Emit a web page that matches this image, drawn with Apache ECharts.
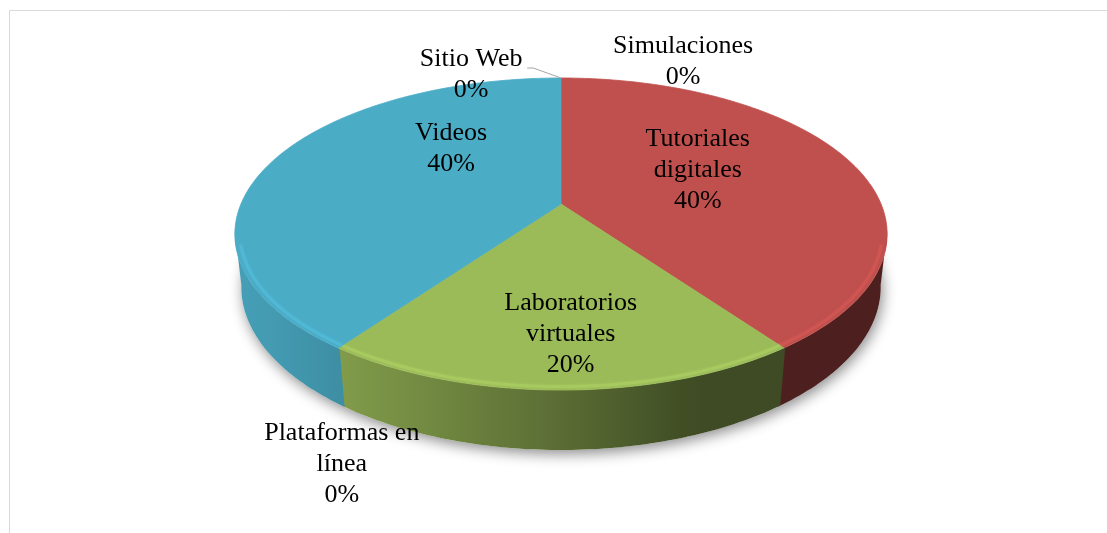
<!DOCTYPE html>
<html>
<head>
<meta charset="utf-8">
<script src="https://cdn.jsdelivr.net/npm/echarts@6/dist/echarts.min.js"></script>
<style>
html, body { margin: 0; padding: 0; background: #fff; }
#chart { width: 1107px; height: 533px; }
</style>
</head>
<body>
<div id="chart"></div>
<script>
// data
var categories = ['Simulaciones', 'Tutoriales digitales', 'Laboratorios virtuales', 'Plataformas en línea', 'Videos', 'Sitio Web'];
var labelNames = ['Simulaciones', 'Tutoriales\ndigitales', 'Laboratorios\nvirtuales', 'Plataformas en\nlínea', 'Videos', 'Sitio Web'];
var values = [0, 40, 20, 0, 40, 0];

// styling
var colors = ['#4f81bd', '#c0504d', '#9bbb59', '#8064a2', '#4bacc6', '#f79646'];
// label spot on the disk: [radius fraction, angle in degrees clockwise from top]
var labelSpots = [[1.245, 22], [0.506, 62], [0.742, 178], [1.396, 201.6], [0.54, 316.8], [1.082, 341.9]];
var geo = { cx: 561, cy: 204, f: 1469, s: 0.4695, c: 0.883, D: 4.59, H: 0.188 };

var total = values.reduce(function(a, b){ return a + b; }, 0);
var starts = [], sweeps = [];
(function(){
    var acc = 0;
    values.forEach(function(v){
        starts.push(acc / total * 360);
        sweeps.push(v / total * 360);
        acc += v;
    });
})();

function project(tDeg, r, h){
    var t = tDeg * Math.PI / 180,
        X = r * Math.sin(t),
        Z = r * Math.cos(t),
        Y = Z * geo.s - h * geo.c,
        depth = geo.D + Z * geo.c + h * geo.s;
    return [geo.cx + geo.f * X / depth, geo.cy - geo.f * Y / depth];
}

function shade(hex, k){
    var n = parseInt(hex.slice(1), 16),
        r = Math.min(255, Math.round(((n >> 16) & 255) * k)),
        g = Math.min(255, Math.round(((n >> 8) & 255) * k)),
        b = Math.min(255, Math.round((n & 255) * k));
    return 'rgb(' + r + ',' + g + ',' + b + ')';
}

function arcPoints(a0, a1, r, h){
    var pts = [], n = Math.max(1, Math.ceil((a1 - a0) / 1));
    for(var j = 0; j <= n; j++){
        pts.push(project(a0 + (a1 - a0) * j / n, r, h));
    }
    return pts;
}

function wallLight(t){
    return 0.4 + 0.52 * Math.max(0, Math.cos((t - 250) * Math.PI / 180));
}

// visible part of the outer wall
var wallLo = Math.acos(-geo.c / geo.D) * 180 / Math.PI,
    wallHi = 360 - wallLo;

function renderShadow(params, api){
    var pts = arcPoints(0, 360, 1, geo.H);
    return {
        type: 'polygon',
        shape: { points: pts },
        style: { fill: '#fff', shadowColor: 'rgba(0,0,0,0.45)', shadowBlur: 14, shadowOffsetY: 4, shadowOffsetX: 2 }
    };
}

function renderWall(params, api){
    var i = params.dataIndex,
        a0 = Math.max(starts[i] - 0.3, wallLo - 1),
        a1 = Math.min(starts[i] + sweeps[i] + 0.3, wallHi + 1);
    if(sweeps[i] <= 0 || a1 <= a0){
        return { type: 'group', children: [] };
    }
    var top = arcPoints(a0, a1, 1, 0),
        bottom = arcPoints(a0, a1, 1, geo.H).reverse(),
        xs = top.map(function(p){ return p[0]; }),
        xMin = Math.min.apply(null, xs),
        xMax = Math.max.apply(null, xs),
        stops = [], n = 24;
    for(var j = 0; j <= n; j++){
        var t = a0 + (a1 - a0) * j / n,
            x = project(t, 1, 0)[0];
        stops.push({ offset: (x - xMin) / (xMax - xMin || 1), color: shade(colors[i], wallLight(t)) });
    }
    stops.sort(function(a, b){ return a.offset - b.offset; });
    return {
        type: 'polygon',
        shape: { points: top.concat(bottom) },
        style: {
            fill: { type: 'linear', x: xMin, y: 0, x2: xMax, y2: 0, global: true, colorStops: stops }
        }
    };
}

function renderTop(params, api){
    var i = params.dataIndex,
        a0 = starts[i],
        a1 = a0 + sweeps[i],
        children = [];
    if(sweeps[i] <= 0){
        return { type: 'group', children: [] };
    }
    var pts = [project(0, 0, 0)].concat(arcPoints(a0, a1, 1, 0));
    children.push({
        type: 'polygon',
        shape: { points: pts },
        style: { fill: colors[i], stroke: colors[i], lineWidth: 0.8 }
    });
    // bevel highlight along the front rim
    var h0 = Math.max(a0, wallLo + 4), h1 = Math.min(a1, wallHi - 4);
    if(h1 > h0){
        children.push({
            type: 'polyline',
            shape: { points: arcPoints(h0, h1, 0.985, 0) },
            style: { stroke: shade(colors[i], 1.1), lineWidth: 3, fill: null, opacity: 0.6, shadowBlur: 3, shadowColor: shade(colors[i], 1.1) }
        });
    }
    return { type: 'group', children: children };
}

function renderLabel(params, api){
    var i = params.dataIndex,
        spot = labelSpots[i],
        p = project(spot[1], spot[0], 0),
        pct = Math.round(values[i] / total * 100) + '%',
        children = [];
    children.push({
        type: 'text',
        style: {
            text: labelNames[i] + '\n' + pct,
            x: p[0], y: p[1],
            textAlign: 'center', textVerticalAlign: 'middle',
            align: 'center', verticalAlign: 'middle',
            font: '26px "Liberation Serif", "Times New Roman", serif',
            lineHeight: 31,
            fill: '#000'
        }
    });
    if(categories[i] === 'Sitio Web'){
        var tip = project(starts[i], 1, 0);
        children.push({
            type: 'polyline',
            shape: { points: [[p[0] + 56, p[1] - 7], [p[0] + 62, p[1] - 7], tip] },
            style: { stroke: '#a6a6a6', lineWidth: 1, fill: null }
        });
    }
    return { type: 'group', children: children };
}

var seriesData = categories.map(function(name, i){
    return { name: name, value: values[i] };
});

var chart = echarts.init(document.getElementById('chart'));
chart.setOption({
    animation: false,
    backgroundColor: '#fff',
    graphic: [{
        type: 'rect',
        shape: { x: 9.5, y: 10.5, width: 1200, height: 600 },
        style: { fill: null, stroke: '#d9d9d9', lineWidth: 1 },
        silent: true
    }],
    series: [
        { type: 'custom', coordinateSystem: 'none', renderItem: renderShadow, data: [0], z: 1, silent: true },
        { type: 'custom', coordinateSystem: 'none', renderItem: renderWall, data: seriesData, z: 2, silent: true },
        { type: 'custom', coordinateSystem: 'none', renderItem: renderTop, data: seriesData, z: 3, silent: true },
        { type: 'custom', coordinateSystem: 'none', renderItem: renderLabel, data: seriesData, z: 4, silent: true }
    ]
});
</script>
</body>
</html>
